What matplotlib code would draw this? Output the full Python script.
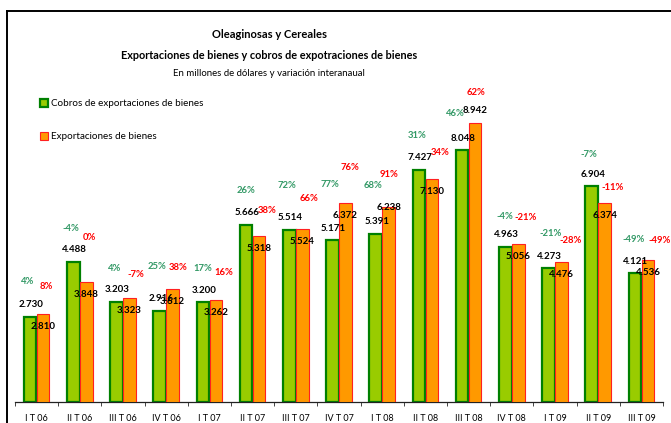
import matplotlib
matplotlib.use("Agg")
import matplotlib.pyplot as plt
from matplotlib.patches import Patch
from matplotlib.lines import Line2D
import numpy as np

# data (millones de dólares)
trimestres = ["I T 06", "II T 06", "III T 06", "IV T 06", "I T 07", "II T 07", "III T 07",
              "IV T 07", "I T 08", "II T 08", "III T 08", "IV T 08", "I T 09", "II T 09", "III T 09"]
cobros = [2730, 4488, 3203, 2916, 3200, 5666, 5514, 5171, 5391, 7427, 8048, 4963, 4273, 6904, 4121]
exportaciones = [2810, 3848, 3323, 3612, 3262, 5318, 5524, 6372, 6238, 7130, 8942, 5056, 4476, 6374, 4536]
var_cobros = [4, -4, 4, 25, 17, 26, 72, 77, 68, 31, 46, -4, -21, -7, -49]
var_export = [8, 0, -7, 38, 16, 38, 66, 76, 91, 34, 62, -21, -28, -11, -49]

# label placement (pixels from bar top), copied from the hand-placed labels of the original
dy_var_cobros = [35, 33, 33, 44, 34, 34, 44, 56, 48, 34, 37, 30, 34.5, 32, 34]
dx_var_cobros = [-3, -2, -1.5, -2.4, -0.6, 0, -2.6, -2.5, -3, -2.2, -7, 0, 2, -2.4, -1.6]
dy_var_export = [27.5, 44.5, 24, 21.5, 27.5, 25, 31, 35.5, 33, 26.5, 30, 27, 22, 15.5, 19.5]
dx_var_export = [3.5, 3.5, 6, 5.5, 7.5, 8.5, 6.5, 4, 0.5, 8, 0.5, 7.5, 9, 8, 12]
dy_val_export = [-12.5] * 15
dy_val_export[8] = 0
dy_val_export[10] = 12.5

GREEN = "#99CC00"
GREEN_EDGE = "#008000"
ORANGE = "#FF9900"
ORANGE_EDGE = "#FF2020"
PCT_GREEN = "#339966"
PCT_RED = "#FF0000"
FONT = "Lato"

W, H, DPI = 671, 423, 100
PT = 72.0 / DPI  # points per pixel

plt.rcParams["font.family"] = [FONT, "DejaVu Sans"]

fig = plt.figure(figsize=(W / DPI, H / DPI), dpi=DPI)

# plot area: baseline at y=402px, 15 categories from x=15 to x=663
ax_left, ax_right, ax_bottom, ax_top = 15, 663, 402, 11
ax = fig.add_axes([ax_left / W, 1 - ax_bottom / H, (ax_right - ax_left) / W, (ax_bottom - ax_top) / H])
px_per_unit = 1 / 32.0
ax.set_ylim(0, (ax_bottom - ax_top) / px_per_unit)
ax.set_xlim(-0.5, len(trimestres) - 0.5)

x = np.arange(len(trimestres))
bw = 0.29
ax.bar(x - 0.15, cobros, width=bw, color=GREEN, edgecolor=GREEN_EDGE, linewidth=1.6, zorder=2)
ax.bar(x + 0.15, exportaciones, width=bw, color=ORANGE, edgecolor=ORANGE_EDGE, linewidth=0.8, zorder=3)


def fmt(v):
    return f"{v:,}".replace(",", ".")


for i in range(len(trimestres)):
    # values
    ax.annotate(fmt(cobros[i]), (x[i] - 0.15, cobros[i]), xytext=(1 * PT, 12 * PT),
                textcoords="offset points", ha="center", va="center",
                fontsize=7, fontweight="bold", color="black", zorder=5, annotation_clip=False)
    ax.annotate(fmt(exportaciones[i]), (x[i] + 0.15, exportaciones[i]),
                xytext=(0, dy_val_export[i] * PT), textcoords="offset points",
                ha="center", va="center", fontsize=7, fontweight="bold", color="black",
                zorder=5, annotation_clip=False)
    # variations
    ax.annotate(f"{var_cobros[i]}%", (x[i] - 0.15, cobros[i]),
                xytext=(dx_var_cobros[i] * PT, dy_var_cobros[i] * PT),
                textcoords="offset points", ha="center", va="center",
                fontsize=6.8, fontweight="bold", color=PCT_GREEN, zorder=5, annotation_clip=False)
    ax.annotate(f"{var_export[i]}%", (x[i] + 0.15, exportaciones[i]),
                xytext=(dx_var_export[i] * PT, dy_var_export[i] * PT),
                textcoords="offset points", ha="center", va="center",
                fontsize=6.8, fontweight="bold", color=PCT_RED, zorder=5, annotation_clip=False)

for s in ["top", "right", "left"]:
    ax.spines[s].set_visible(False)
ax.spines["bottom"].set_color("#222222")
ax.spines["bottom"].set_linewidth(0.9)
ax.set_yticks([])
ax.set_xticks(np.arange(-0.5, len(trimestres)), labels=[])
ax.tick_params(axis="x", which="major", length=3, width=0.7, color="#444444", direction="out")
ax.set_xticks(x, labels=trimestres, minor=True)
ax.tick_params(axis="x", which="minor", length=0, pad=8.5, labelsize=6.5)
ax.patch.set_visible(False)

# titles
cx = 269 / W
fig.text(cx, 1 - 35 / H, "Oleaginosas y Cereales", ha="center", va="center",
         fontsize=8, fontweight="bold")
fig.text(cx, 1 - 55.7 / H, "Exportaciones de bienes y cobros de expotraciones de bienes",
         ha="center", va="center", fontsize=7.8, fontweight="bold")
fig.text(cx, 1 - 74 / H, "En millones de dólares y variación interanaual",
         ha="center", va="center", fontsize=6.9)

# legend
handles = [Patch(facecolor=GREEN, edgecolor=GREEN_EDGE, linewidth=1.6),
           Patch(facecolor=ORANGE, edgecolor=ORANGE_EDGE, linewidth=0.8)]
fig.legend(handles, ["Cobros de exportaciones de bienes", "Exportaciones de bienes"],
           loc="upper left", bbox_to_anchor=(40 / W, 1 - 99 / H), frameon=False,
           fontsize=7.1, handlelength=0.85, handleheight=0.85, handletextpad=0.3,
           labelspacing=2.4, borderpad=0, borderaxespad=0)

# outer frame of the original sheet (only left and top edges are visible)
fig.add_artist(Line2D([6.5 / W, 6.5 / W], [0, 1 - 11 / H], transform=fig.transFigure,
                      color="black", linewidth=1.4))
fig.add_artist(Line2D([6.5 / W, 1], [1 - 11 / H, 1 - 11 / H], transform=fig.transFigure,
                      color="black", linewidth=1.4))

fig.savefig("out.png", dpi=DPI)
